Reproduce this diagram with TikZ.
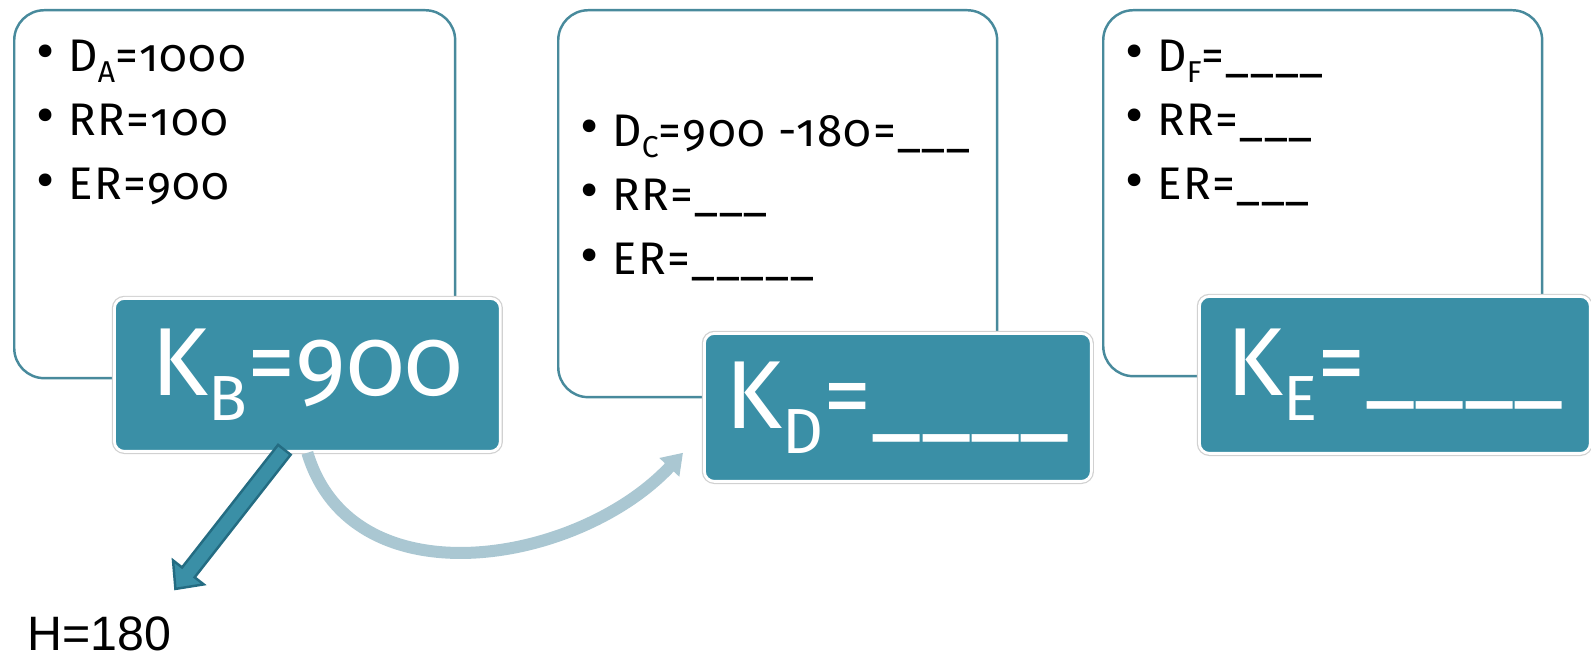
\documentclass[tikz,border=0pt]{standalone}
\usepackage{fontspec}
\setmainfont{Fira Sans}[Numbers=OldStyle]
\newfontfamily\arialfont{Liberation Sans}
\usepackage{tikz}
\usetikzlibrary{positioning,arrows.meta,calc}

\definecolor{keyteal}{RGB}{58,143,166}
\definecolor{cardline}{RGB}{72,138,156}
\definecolor{dropteal}{RGB}{36,108,130}
\definecolor{arcgray}{RGB}{170,199,210}

\newcommand{\blt}{\makebox[0.64cm][l]{\raisebox{0.5pt}{\fontsize{32}{32}\selectfont\textbullet}}}
\newcommand{\sub}[1]{\raisebox{-0.26em}{\scalebox{0.66}{#1}}}

\begin{document}
\begin{tikzpicture}[
  x=0.02cm, y=0.02cm,
  card/.style={
    rectangle, rounded corners=0.6cm, draw=cardline, fill=white,
    line width=1.4pt, anchor=north west, inner sep=0pt
  },
  key/.style={
    rectangle, rounded corners=0.2cm, fill=keyteal, draw=white,
    line width=1.6pt, preaction={draw=black!18, line width=3pt},
    anchor=north west, inner sep=0pt, text=white,
    font=\fontsize{55}{60}\selectfont
  },
  bul/.style={
    anchor=base west, align=left, inner sep=0pt,
    font=\fontsize{26}{36.7}\selectfont\addfontfeature{LetterSpace=3}
  },
  arc/.style={-{Triangle[width=0.52cm, length=0.4cm]}, line width=0.24cm, arcgray},
  drop/.style={draw=dropteal, fill=keyteal, line width=1.4pt, line join=miter},
  lbl/.style={anchor=base west, inner sep=0pt, font=\arialfont\fontsize{27.5}{30}\selectfont}
]
\useasboundingbox (0,0) rectangle (1591,-658);

% --- Card A/B ---
\node[card, minimum width=8.82cm, minimum height=7.36cm] (ca) at (13,-9) {};
\node[bul] (ta) at (36,-200)
  {\blt D\sub{A}=1000\\ \blt RR=100\\ \blt ER=900};
\node[key, minimum width=7.72cm, minimum height=3.06cm] (kb) at (113,-297)
  {K\sub{B}=900};

% --- Card C/D ---
\node[card, minimum width=8.78cm, minimum height=7.74cm] (cc) at (557,-9) {};
\node[bul] (tc) at (580,-275)
  {\blt D\sub{C}=900 -180=\_\_\_\\ \blt RR=\_\_\_\\ \blt ER=\_\_\_\_\_};
\node[key, minimum width=7.74cm, minimum height=2.96cm] (kd) at (703,-332)
  {K\sub{D}=\_\_\_\_};

% --- Card F/E ---
\node[card, minimum width=8.78cm, minimum height=7.32cm] (cf) at (1102,-9) {};
\node[bul] (tf) at (1125,-200)
  {\blt D\sub{F}=\_\_\_\_\\ \blt RR=\_\_\_\\ \blt ER=\_\_\_};
\node[key, minimum width=7.82cm, minimum height=3.14cm] (ke) at (1198,-295)
  {K\sub{E}=\_\_\_\_};

% --- Outflow ---
\node[lbl] (hval) at (27,-650) {H=180};

% --- Arrows ---
\coordinate (hs) at ($(kb.south)+(-23,3)$);
\coordinate (ht) at ($(hval.north east)+(4,27)$);
\coordinate (hb) at ($(ht)!0.42cm!(hs)$);
\draw[drop] ($(hs)!0.16cm!90:(ht)$) -- ($(hb)!0.16cm!90:(ht)$)
  -- ($(hb)!0.39cm!90:(ht)$) -- (ht) -- ($(hb)!0.39cm!-90:(ht)$)
  -- ($(hb)!0.16cm!-90:(ht)$) -- ($(hs)!0.16cm!-90:(ht)$) -- cycle;

\coordinate (kdin) at ($(kd.south west)+(-20,30)$);
\draw[arc] (kb.south) .. controls +(45,-150) and +(-105,-112) .. (kdin);

\end{tikzpicture}
\end{document}
